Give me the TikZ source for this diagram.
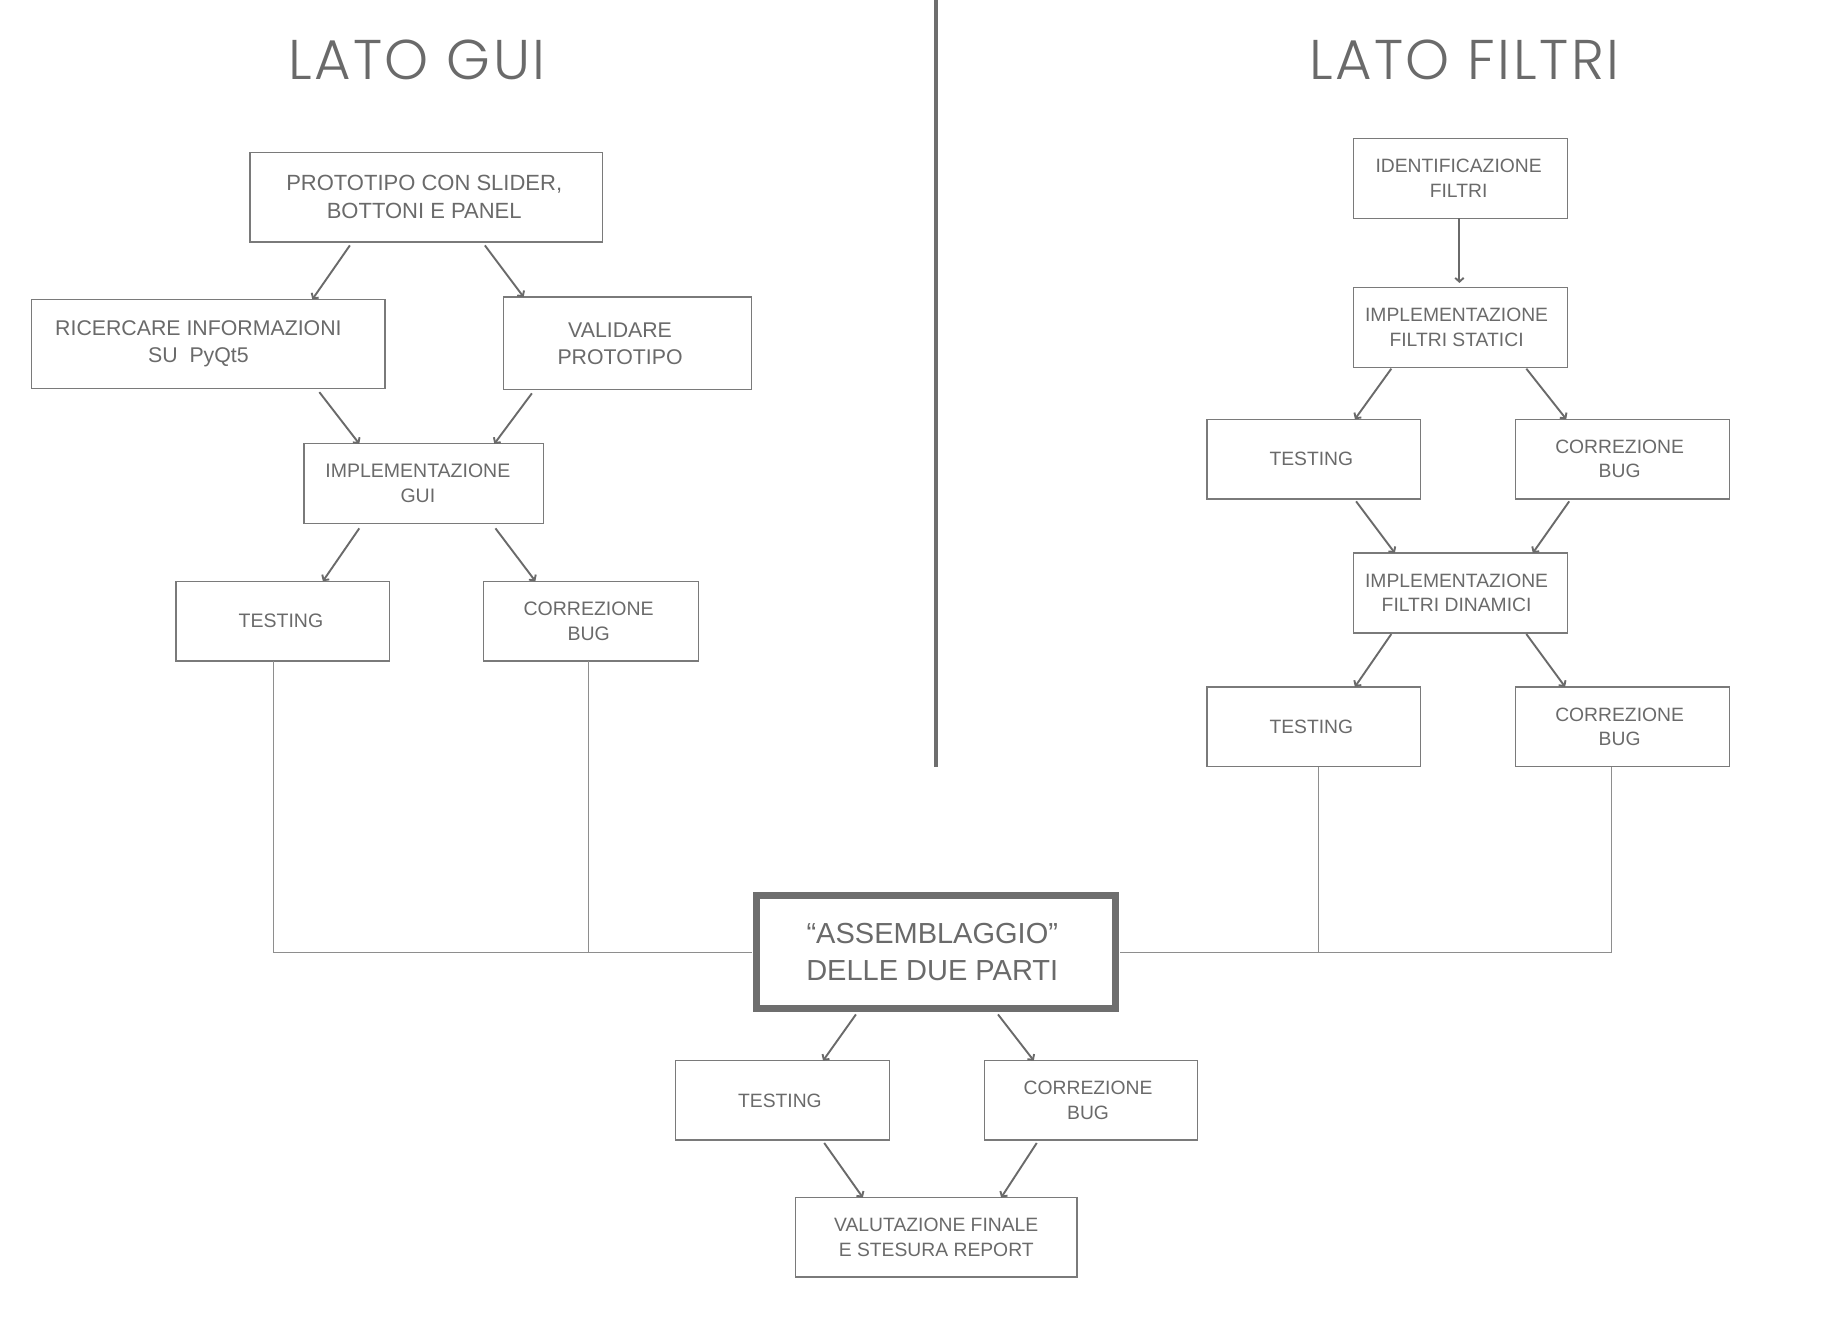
\documentclass[tikz,border=0pt]{standalone}
\usepackage{fontspec}
\setmainfont{Liberation Sans}
\newfontfamily\titlefont{Poppins Light}[LetterSpace=4.5]
\usetikzlibrary{arrows.meta,calc}
\definecolor{txtgray}{HTML}{6A6A6A}
\definecolor{boxgray}{HTML}{7A7A7A}
\definecolor{linegray}{HTML}{8E8E8E}
\definecolor{arrgray}{HTML}{6A6A6A}
\definecolor{divgray}{HTML}{6E6E6E}
% box helper: name, style, x1, y1, x2, y2, text
\newcommand{\bx}[7]{\node[box,#2,minimum width={(#5-#3)*1.1741pt},minimum height={(#6-#4)*1.1741pt}] (#1) at ({(#3+#5)/2},{(#4+#6)/2}) {#7};}
\newcommand{\lsh}[1]{\hspace{#1}\mbox{}}
\begin{document}
\begin{tikzpicture}[x={(1.1741pt,0pt)}, y={(0pt,-1.1741pt)},
  box/.style={draw=boxgray, line width=1.3pt, inner sep=0pt, outer sep=0pt, align=center, text=txtgray},
  fa/.style={font=\fontsize{22pt}{28pt}\selectfont},
  fb/.style={font=\fontsize{21.3pt}{27pt}\selectfont},
  fc/.style={font=\fontsize{19.5pt}{25pt}\selectfont},
  fd/.style={font=\fontsize{19.3pt}{24.5pt}\selectfont},
  arr/.style={draw=arrgray, line width=1.9pt, -{Straight Barb[length=3.8pt,width=8.5pt]}},
  conn/.style={draw=linegray, line width=1.2pt},
  ttl/.style={text=txtgray, font=\titlefont\fontsize{56pt}{60pt}\selectfont, inner sep=0pt, anchor=base}]
\useasboundingbox[fill=white] (0,0) rectangle (1568,1127);
% titles
\node[ttl] (tg) at (355,68) {LATO GUI};
\node[ttl] (tf) at (1247,68) {LATO FILTRI};
% divider
\coordinate (d1) at (797,0);
\coordinate (d2) at (797,653);
\draw[divgray, line width=4pt] (d1) -- (d2);
% left boxes
\bx{P}{fa}{213}{130}{513}{206}{PROTOTIPO CON SLIDER,\lsh{4pt}\\BOTTONI E PANEL\lsh{4pt}}
\bx{R}{fb}{27}{255}{328}{331}{RICERCARE INFORMAZIONI\lsh{20pt}\\SU\ \ PyQt5\lsh{20pt}}
\bx{V}{fb}{429}{253}{640}{332}{VALIDARE\lsh{15pt}\\PROTOTIPO\lsh{15pt}}
\bx{IG}{fc}{259}{378}{463}{446}{IMPLEMENTAZIONE\lsh{12pt}\\GUI\lsh{12pt}}
\bx{T1}{fc}{150}{495}{332}{563}{TESTING\lsh{4pt}}
\bx{C1}{fc}{412}{495}{595}{563}{CORREZIONE\lsh{5pt}\\BUG\lsh{5pt}}
% right boxes
\bx{IF}{fd}{1153}{118}{1335}{186}{IDENTIFICAZIONE\lsh{4pt}\\FILTRI\lsh{4pt}}
\bx{IS}{fd}{1153}{245}{1335}{313}{IMPLEMENTAZIONE\lsh{8pt}\\FILTRI STATICI\lsh{8pt}}
\bx{T2}{fd}{1028}{357}{1210}{425}{TESTING\lsh{5pt}}
\bx{C2}{fd}{1291}{357}{1473}{425}{CORREZIONE\lsh{6pt}\\BUG\lsh{6pt}}
\bx{ID}{fd}{1153}{471}{1335}{539}{IMPLEMENTAZIONE\lsh{8pt}\\FILTRI DINAMICI\lsh{8pt}}
\bx{T3}{fd}{1028}{585}{1210}{653}{TESTING\lsh{5pt}}
\bx{C3}{fd}{1291}{585}{1473}{653}{CORREZIONE\lsh{6pt}\\BUG\lsh{6pt}}
% bottom
\bx{A}{draw=divgray, line width=7pt, font=\fontsize{29pt}{36.5pt}\selectfont}{644}{763}{950}{859}{“ASSEMBLAGGIO”\lsh{7pt}\\DELLE DUE PARTI\lsh{7pt}}
\bx{T4}{fd}{575.5}{903.4}{757.3}{971}{TESTING\lsh{5pt}}
\bx{C4}{fd}{838.5}{903.4}{1020}{971}{CORREZIONE\lsh{6pt}\\BUG\lsh{6pt}}
\bx{VF}{fd}{677.6}{1020}{917.2}{1087.6}{VALUTAZIONE FINALE\\E STESURA REPORT}
% arrows left
\draw[arr] ([shift={(85,3)}]P.south west) -- ([shift={(239,0)}]R.north west);
\draw[arr] ([shift={(-100,3)}]P.south east) -- ([shift={(17,0)}]V.north west);
\draw[arr] ([shift={(245,3)}]R.south west) -- ([shift={(47,0)}]IG.north west);
\draw[arr] ([shift={(24,3)}]V.south west) -- ([shift={(-42,0)}]IG.north east);
\draw[arr] ([shift={(47,4)}]IG.south west) -- ([shift={(125,0)}]T1.north west);
\draw[arr] ([shift={(-41,4)}]IG.south east) -- ([shift={(44,0)}]C1.north west);
% arrows right
\draw[arr] ([shift={(-1,0)}]IF.south) -- ([shift={(-1,-4)}]IS.north);
\draw[arr] ([shift={(32,1)}]IS.south west) -- ([shift={(126,0)}]T2.north west);
\draw[arr] ([shift={(-35,1)}]IS.south east) -- ([shift={(43,0)}]C2.north west);
\draw[arr] ([shift={(127,2)}]T2.south west) -- ([shift={(35,0)}]ID.north west);
\draw[arr] ([shift={(45.5,2)}]C2.south west) -- ([shift={(-29.5,0)}]ID.north east);
\draw[arr] ([shift={(32,1)}]ID.south west) -- ([shift={(126,0)}]T3.north west);
\draw[arr] ([shift={(-35,1)}]ID.south east) -- ([shift={(42,0)}]C3.north west);
% arrows bottom
\draw[arr] ([shift={(85,5)}]A.south west) -- ([shift={(125.5,0)}]T4.north west);
\draw[arr] ([shift={(-100,5)}]A.south east) -- ([shift={(42,0)}]C4.north west);
\draw[arr] ([shift={(126.5,2.5)}]T4.south west) -- ([shift={(57.3,0)}]VF.north west);
\draw[arr] ([shift={(44.5,2.5)}]C4.south west) -- ([shift={(-64.5,0)}]VF.north east);
% connectors to assembly
\draw[conn] ([shift={(-8,0)}]T1.south) |- ([shift={(-3.5,0)}]A.west);
\draw[conn] ([shift={(-2.5,0)}]C1.south) |- ([shift={(-3.5,0)}]A.west);
\draw[conn] ([shift={(4,0)}]T3.south) |- ([shift={(3.5,0)}]A.east);
\draw[conn] ([shift={(-9.5,0)}]C3.south) |- ([shift={(3.5,0)}]A.east);
\end{tikzpicture}
\end{document}
